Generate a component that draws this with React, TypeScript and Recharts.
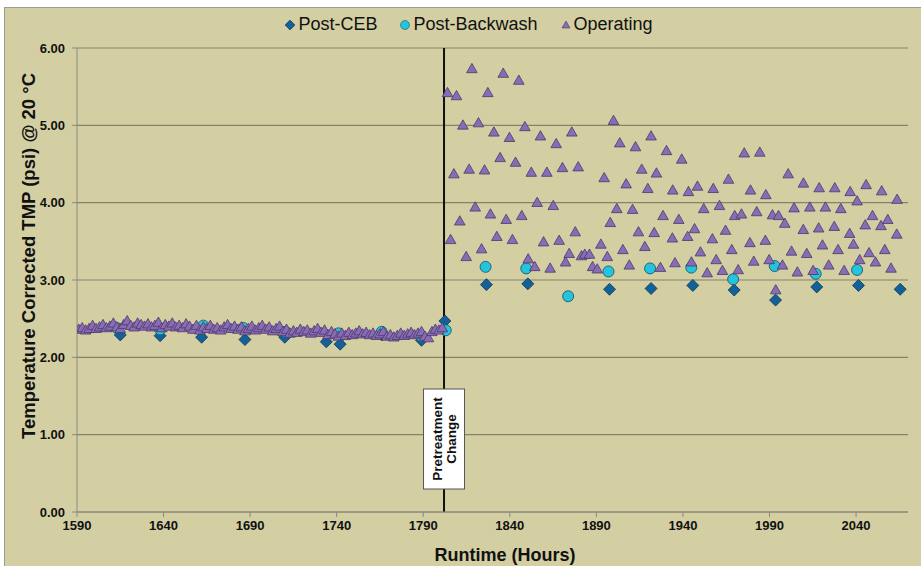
import React from 'react';
import { ScatterChart, Scatter, XAxis, YAxis, CartesianGrid, Legend, ReferenceLine, Label } from 'recharts';

const FONT = '"Liberation Sans", Arial, sans-serif';

const xTicks = [1590, 1640, 1690, 1740, 1790, 1840, 1890, 1940, 1990, 2040];
const yTicks = [0, 1, 2, 3, 4, 5, 6];
const changeHour = 1802;

// [runtime hours, TMP psi]
const postCeb: number[][] = [
  [1615, 2.29], [1638, 2.28], [1662, 2.26], [1687, 2.23], [1710, 2.26], [1734, 2.2], [1742, 2.17],
  [1766, 2.29], [1789, 2.22], [1802.5, 2.47], [1826.5, 2.94], [1850.4, 2.95], [1897.6, 2.88],
  [1921.6, 2.89], [1945.7, 2.93], [1969.6, 2.87], [1993.5, 2.74], [2017.3, 2.91], [2041.4, 2.93],
  [2065.5, 2.88],
];

const postBackwash: number[][] = [
  [1613, 2.38], [1638, 2.36], [1663, 2.41], [1686, 2.38], [1710.5, 2.33], [1741, 2.31], [1766, 2.33],
  [1788.5, 2.28], [1803, 2.35], [1826, 3.17], [1849.5, 3.15], [1873.7, 2.79], [1897, 3.11],
  [1921, 3.15], [1944.8, 3.16], [1969, 3.01], [1993, 3.18], [2016.7, 3.08], [2040.6, 3.13],
];

const operatingBefore: number[][] = [
  [1591, 2.36], [1593, 2.38], [1595, 2.35], [1597, 2.37], [1599, 2.41], [1601, 2.37], [1603, 2.39],
  [1605, 2.42], [1607, 2.38], [1609, 2.4], [1611, 2.44], [1613, 2.39], [1615, 2.37], [1617, 2.42],
  [1619, 2.47], [1621, 2.41], [1623, 2.39], [1625, 2.44], [1627, 2.42], [1629, 2.4], [1631, 2.43],
  [1633, 2.39], [1635, 2.41], [1637, 2.45], [1639, 2.38], [1641, 2.42], [1643, 2.4], [1645, 2.44],
  [1647, 2.39], [1649, 2.41], [1651, 2.38], [1653, 2.43], [1655, 2.4], [1657, 2.36], [1659, 2.41],
  [1661, 2.35], [1663, 2.39], [1665, 2.37], [1667, 2.41], [1669, 2.36], [1671, 2.38], [1673, 2.35],
  [1675, 2.39], [1677, 2.42], [1679, 2.37], [1681, 2.4], [1683, 2.36], [1685, 2.39], [1687, 2.34],
  [1689, 2.37], [1691, 2.4], [1693, 2.35], [1695, 2.38], [1697, 2.41], [1699, 2.36], [1701, 2.39],
  [1703, 2.34], [1705, 2.37], [1707, 2.4], [1709, 2.33], [1711, 2.36], [1713, 2.31], [1715, 2.34],
  [1717, 2.32], [1719, 2.36], [1721, 2.33], [1723, 2.35], [1725, 2.31], [1727, 2.34], [1729, 2.37],
  [1731, 2.32], [1733, 2.35], [1735, 2.29], [1737, 2.33], [1739, 2.3], [1741, 2.27], [1743, 2.31],
  [1745, 2.28], [1747, 2.32], [1749, 2.29], [1751, 2.31], [1753, 2.34], [1755, 2.3], [1757, 2.32],
  [1759, 2.29], [1761, 2.31], [1763, 2.28], [1765, 2.3], [1767, 2.33], [1769, 2.27], [1771, 2.29],
  [1773, 2.26], [1775, 2.28], [1777, 2.31], [1779, 2.28], [1781, 2.3], [1783, 2.32], [1785, 2.29],
  [1787, 2.31], [1789, 2.33], [1791, 2.27], [1793, 2.25], [1795, 2.33], [1797, 2.36], [1799, 2.35],
  [1801, 2.38],
];

const operatingAfter: number[][] = [
  [1804, 5.42], [1805.8, 3.52], [1807.7, 4.37], [1809.2, 5.38], [1811.1, 3.76], [1812.9, 5.0],
  [1814.8, 3.3], [1816.5, 4.43], [1818.1, 5.73], [1820, 3.94], [1821.9, 5.03], [1823.7, 3.4],
  [1825.4, 4.42], [1827.3, 5.42], [1828.8, 3.85], [1830.8, 4.91], [1832.5, 3.56], [1834.4, 4.58],
  [1836.2, 5.67], [1837.9, 3.78], [1839.8, 4.84], [1841.5, 3.52], [1843.3, 4.52], [1845.2, 5.58],
  [1846.9, 3.83], [1848.7, 4.98], [1850.6, 3.27], [1852.4, 4.39], [1854.4, 3.17], [1855.8, 4.0],
  [1857.7, 4.86], [1859.5, 3.49], [1861.4, 4.39], [1863.3, 3.15], [1865.1, 3.96], [1866.8, 4.76],
  [1868.5, 3.51], [1870.4, 4.45], [1872.2, 3.23], [1874.3, 3.34], [1875.8, 4.91], [1877.8, 3.62],
  [1879.5, 4.46], [1881.4, 3.31], [1883.3, 3.33], [1886, 3.33], [1887.8, 3.17], [1890.5, 3.14],
  [1892.6, 3.46], [1894.5, 4.32], [1896.3, 3.3], [1898, 3.74], [1899.9, 5.06], [1901.8, 3.92],
  [1903.5, 4.77], [1905.3, 3.39], [1907.2, 4.24], [1909, 3.19], [1910.9, 3.91], [1912.6, 4.72],
  [1914.3, 3.62], [1916.2, 4.43], [1918, 3.43], [1919.7, 4.18], [1921.6, 4.86], [1923.4, 3.61],
  [1924.7, 4.38], [1927, 3.16], [1928.5, 3.83], [1930.5, 4.67], [1933.9, 3.54], [1934.1, 4.16],
  [1935.4, 3.22], [1937.6, 3.78], [1939.3, 4.56], [1942.7, 3.56], [1943.2, 4.14], [1944.9, 3.23],
  [1946.7, 3.66], [1948.4, 4.21], [1950.1, 3.36], [1952, 3.92], [1954, 3.09], [1957, 3.53],
  [1957.5, 4.18], [1959.2, 3.26], [1961.1, 3.96], [1962.8, 3.12], [1964.6, 3.64], [1966.3, 4.3],
  [1968.2, 3.39], [1969.9, 3.83], [1971.9, 3.13], [1973.8, 3.85], [1975.4, 4.64], [1978.7, 3.48],
  [1979, 4.16], [1980.9, 3.24], [1982.6, 3.88], [1984.4, 4.65], [1987.6, 3.51], [1987.9, 4.1],
  [1989.8, 3.26], [1991.7, 3.84], [1993.6, 2.87], [1995.2, 3.83], [1997.5, 3.19], [1998.8, 3.73],
  [2000.8, 4.37], [2002.7, 3.37], [2004.2, 3.93], [2006.1, 3.1], [2009.5, 3.65], [2009.6, 4.25],
  [2011.5, 3.34], [2013.3, 3.94], [2015.2, 3.12], [2018.4, 3.67], [2018.7, 4.19], [2020.6, 3.45],
  [2022.3, 3.94], [2024.2, 3.19], [2027.4, 3.69], [2027.7, 4.19], [2029.6, 3.39], [2031.2, 3.92],
  [2033.1, 3.12], [2036.3, 3.6], [2036.6, 4.14], [2038.5, 3.46], [2040.6, 4.02], [2042.1, 3.26],
  [2045.3, 3.71], [2045.8, 4.23], [2047.5, 3.35], [2049.5, 3.83], [2051.2, 3.23], [2054.4, 3.7],
  [2054.8, 4.15], [2056.6, 3.39], [2058.3, 3.78], [2060.2, 3.15], [2063.5, 3.59], [2063.7, 4.04],
];

const toPoints = (rows: number[][]) => rows.map(([x, y]) => ({ x, y }));

const CEB_FILL = '#14619a';
const BW_FILL = '#22c4de';
const OP_FILL = '#8a6cb6';

const DiamondShape = (props: any) => {
  const { cx, cy } = props;
  const r = 6;
  return <path d={`M${cx},${cy - r}L${cx + r},${cy}L${cx},${cy + r}L${cx - r},${cy}Z`} fill={CEB_FILL} stroke="#0b3556" strokeWidth={0.8} />;
};

const CircleShape = (props: any) => {
  const { cx, cy } = props;
  return <circle cx={cx} cy={cy} r={5.5} fill={BW_FILL} stroke="#245866" strokeWidth={0.9} />;
};

const TriangleShape = (props: any) => {
  const { cx, cy } = props;
  return <path d={`M${cx},${cy - 5.5}L${cx + 5.3},${cy + 3.8}L${cx - 5.3},${cy + 3.8}Z`} fill={OP_FILL} stroke="#4a3868" strokeWidth={0.8} />;
};

const legendItems = [
  { name: 'Post-CEB', icon: <path d="M6,1L11,6L6,11L1,6Z" fill={CEB_FILL} stroke="#0b3556" strokeWidth={0.6} /> },
  { name: 'Post-Backwash', icon: <circle cx={6} cy={6} r={4.5} fill={BW_FILL} stroke="#245866" strokeWidth={0.6} /> },
  { name: 'Operating', icon: <path d="M6,2L10,9L2,9Z" fill={OP_FILL} stroke="#4a3868" strokeWidth={0.6} /> },
];

const LegendContent = () => (
  <div style={{ display: 'flex', justifyContent: 'center', alignItems: 'center', fontFamily: FONT, fontSize: 18, color: '#111', paddingLeft: 16 }}>
    {legendItems.map((it) => (
      <div key={it.name} style={{ display: 'flex', alignItems: 'center', margin: '0 11px' }}>
        <svg width={12} height={12} style={{ marginRight: 2 }}>{it.icon}</svg>
        <span>{it.name}</span>
      </div>
    ))}
  </div>
);

const ChangeLabel = (props: any) => {
  const vb = props.viewBox || {};
  const x = vb.x;
  const bottom = vb.y + vb.height;
  const top = bottom - 123;
  const cy = top + 50;
  return (
    <g>
      <rect x={x - 20.5} y={top} width={41} height={100} fill="#ffffff" stroke="#555" strokeWidth={1} />
      <text x={x - 7} y={cy} transform={`rotate(-90 ${x - 7} ${cy})`} textAnchor="middle" dominantBaseline="central" fontFamily={FONT} fontWeight="bold" fontSize={13.5} fill="#111">Pretreatment</text>
      <text x={x + 7} y={cy} transform={`rotate(-90 ${x + 7} ${cy})`} textAnchor="middle" dominantBaseline="central" fontFamily={FONT} fontWeight="bold" fontSize={13.5} fill="#111">Change</text>
    </g>
  );
};

const tickStyle = { fontFamily: FONT, fontSize: 13, fontWeight: 'bold', fill: '#111' } as any;

export default function App() {
  return (
    <div style={{ position: 'absolute', left: 0, top: 0, width: 921, height: 566, overflow: 'hidden', background: '#ffffff' }}>
      <div style={{ position: 'absolute', left: 4, top: 7, width: 940, height: 580, background: '#d3cfa3', border: '1px solid #9c9c94' }} />
      <div style={{ position: 'absolute', left: 0, top: 0 }}>
        <ScatterChart width={921} height={566} margin={{ top: 48, right: 13, bottom: 24, left: 27 }}>
          <CartesianGrid vertical={false} stroke="#85836a" strokeWidth={1.2} />
          <XAxis
            type="number"
            dataKey="x"
            domain={[1590, 2070]}
            ticks={xTicks}
            allowDataOverflow
            height={30}
            tick={tickStyle}
            tickSize={5}
            tickMargin={4}
            stroke="#8a8a80"
          >
            <Label
              content={() => (
                <text x={505} y={555} textAnchor="middle" dominantBaseline="central" fontFamily={FONT} fontWeight="bold" fontSize={18} fill="#111">
                  Runtime (Hours)
                </text>
              )}
            />
          </XAxis>
          <YAxis
            type="number"
            dataKey="y"
            domain={[0, 6]}
            ticks={yTicks}
            width={50}
            tick={tickStyle}
            tickSize={5}
            tickMargin={7}
            tickFormatter={(v: number) => v.toFixed(2)}
            stroke="#8a8a80"
          >
            <Label
              content={() => (
                <text x={28} y={256} transform="rotate(-90 28 256)" textAnchor="middle" dominantBaseline="central" fontFamily={FONT} fontWeight="bold" fontSize={18.5} fill="#111">
                  Temperature Corrected TMP (psi) @ 20 °C
                </text>
              )}
            />
          </YAxis>
          <Legend layout="horizontal" verticalAlign="middle" align="center" wrapperStyle={{ top: 14, left: 0, width: 921 }} content={<LegendContent />} />
          <ReferenceLine x={changeHour} stroke="#111" strokeWidth={2} label={<ChangeLabel />} />
          <Scatter name="Post-CEB" data={toPoints(postCeb)} shape={<DiamondShape />} isAnimationActive={false} />
          <Scatter name="Post-Backwash" data={toPoints(postBackwash)} shape={<CircleShape />} isAnimationActive={false} />
          <Scatter name="Operating" data={toPoints([...operatingBefore, ...operatingAfter])} shape={<TriangleShape />} isAnimationActive={false} />
        </ScatterChart>
      </div>
    </div>
  );
}
